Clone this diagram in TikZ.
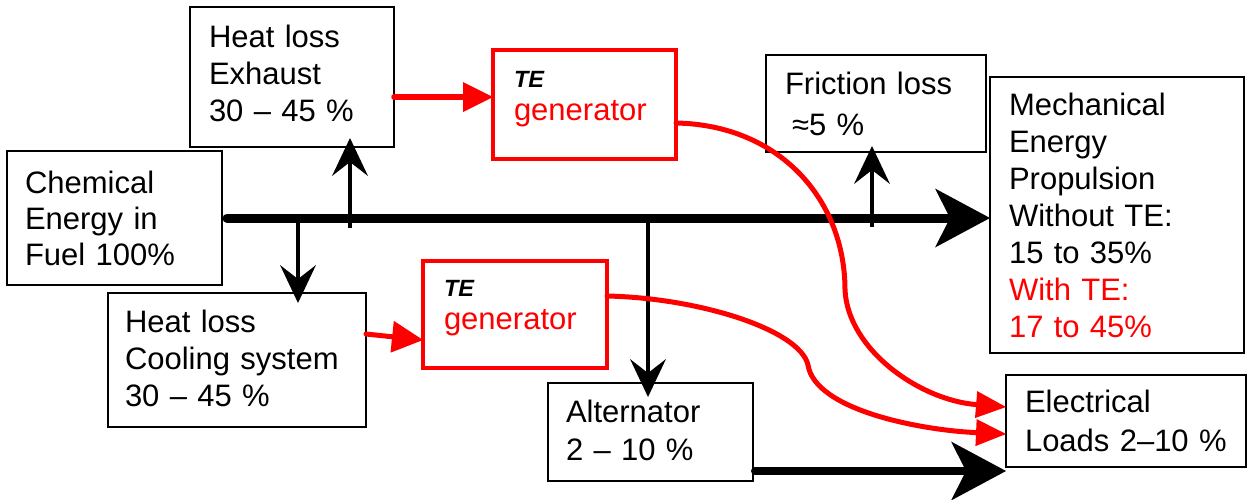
\documentclass[tikz,border=0pt]{standalone}
\usepackage{fontspec}
\setmainfont{Liberation Sans}
\usetikzlibrary{arrows.meta}
\begin{document}
\begin{tikzpicture}[x=1pt,y=-1pt,
  fs/.style={font=\fontsize{31}{37}\selectfont},
  box/.style={draw=black, line width=2pt, anchor=north west, outer sep=0pt,
    inner ysep=0pt, align=left, fs},
  tebox/.style={box, draw=red, line width=4pt},
  thinarrow/.style={draw=black, line width=4.5pt,
    -{Stealth[length=38pt,width=36pt,inset=14pt,line width=0pt]}},
  bigarrow/.style={draw=black, line width=9pt, line cap=round,
    -{Stealth[length=55pt,width=59pt,inset=15pt,line width=0pt]}},
  redarrow/.style={draw=red, line width=5pt, line cap=round,
    -{Triangle[length=30pt,width=27pt,line width=0pt]}}
]
\useasboundingbox (0,0) rectangle (1249,499);

% energy boxes
\node[box, inner xsep=18pt, text width=179pt, text height=42pt, text depth=92pt,
      font=\fontsize{31}{36}\selectfont] (chem) at (7,151)
  {Chemical\\Energy in\\Fuel 100\%};
\node[box, inner xsep=19pt, text width=166pt, text height=40pt, text depth=100pt] (exh) at (190,7)
  {Heat loss\\Exhaust\\30 – 45 \%};
\node[tebox, inner xsep=21pt, text width=141pt, text height=37pt, text depth=72pt] (teA) at (493,50)
  {{\fontsize{23.5}{28}\selectfont\bfseries\itshape TE}\\[-4pt]\textcolor{red}{generator}};
\node[box, inner xsep=19pt, text width=182pt, text height=39pt, text depth=58pt] (fric) at (766,55)
  {Friction loss\\[4pt]\hspace*{7pt}≈5 \%};
\node[box, inner xsep=19pt, text width=216pt, text height=38pt, text depth=238pt] (mech) at (990,77)
  {Mechanical\\Energy\\Propulsion\\Without TE:\\15 to 35\%\\\textcolor{red}{With TE:}\\\textcolor{red}{17 to 45\%}};
\node[box, inner xsep=17pt, text width=224pt, text height=39pt, text depth=95pt] (cool) at (108,293)
  {Heat loss\\Cooling~system\\30 – 45 \%};
\node[tebox, inner xsep=21pt, text width=142pt, text height=35pt, text depth=72pt] (teB) at (423,261)
  {{\fontsize{23.5}{28}\selectfont\bfseries\itshape TE}\\[-4pt]\textcolor{red}{generator}};
\node[box, inner xsep=18pt, text width=169pt, text height=39pt, text depth=59pt] (alt) at (548,383)
  {Alternator\\[1pt]2 – 10 \%};
\node[box, inner xsep=19pt, text width=202pt, text height=37pt, text depth=55pt] (elec) at (1006,375)
  {Electrical\\[2pt]Loads~2–10~\%};

% branch points on the main energy line
\coordinate (jc) at (298,218);
\coordinate (jx) at (350,228);
\coordinate (ja) at (648,218);
\coordinate (jf) at (872,227);
\coordinate (altout) at ([yshift=10pt]alt.south east);
\coordinate (teAin) at ([yshift=7.5pt]teA.west);

% main energy flow
\draw[bigarrow] ([xshift=5pt]chem.east) -- (mech.west |- chem.east);
\draw[thinarrow, shorten >=-9pt] (jx) -- (jx |- exh.south);
\draw[thinarrow, shorten >=-10pt] (jc) -- (jc |- cool.north);
\draw[thinarrow, shorten >=-14pt] (ja) -- (ja |- alt.north);
\draw[thinarrow, shorten >=-6pt] (jf) -- (jf |- fric.south);
\draw[bigarrow, line width=8pt] ([xshift=2pt]altout) -- (altout -| elec.west);

% thermoelectric recovery paths
\draw[redarrow, line width=5.5pt, -{Triangle[length=30pt,width=30pt,line width=0pt]}]
  (teAin -| exh.east) -- (teAin);
\draw[redarrow, -{Triangle[length=31pt,width=32pt,line width=0pt]}]
  ([yshift=26pt]cool.east) -- ([yshift=-25.5pt]teB.west);
\draw[redarrow] ([yshift=-18.5pt]teA.east) .. controls (780,125) and (845,200) .. (845,290)
  .. controls (848,350) and (920,400) .. ([yshift=14pt]elec.west);
\draw[redarrow] ([yshift=18.5pt]teB.east) .. controls (700,298) and (800,330) .. (808,365)
  .. controls (815,410) and (920,430) .. ([yshift=-13pt]elec.west);
\end{tikzpicture}
\end{document}
